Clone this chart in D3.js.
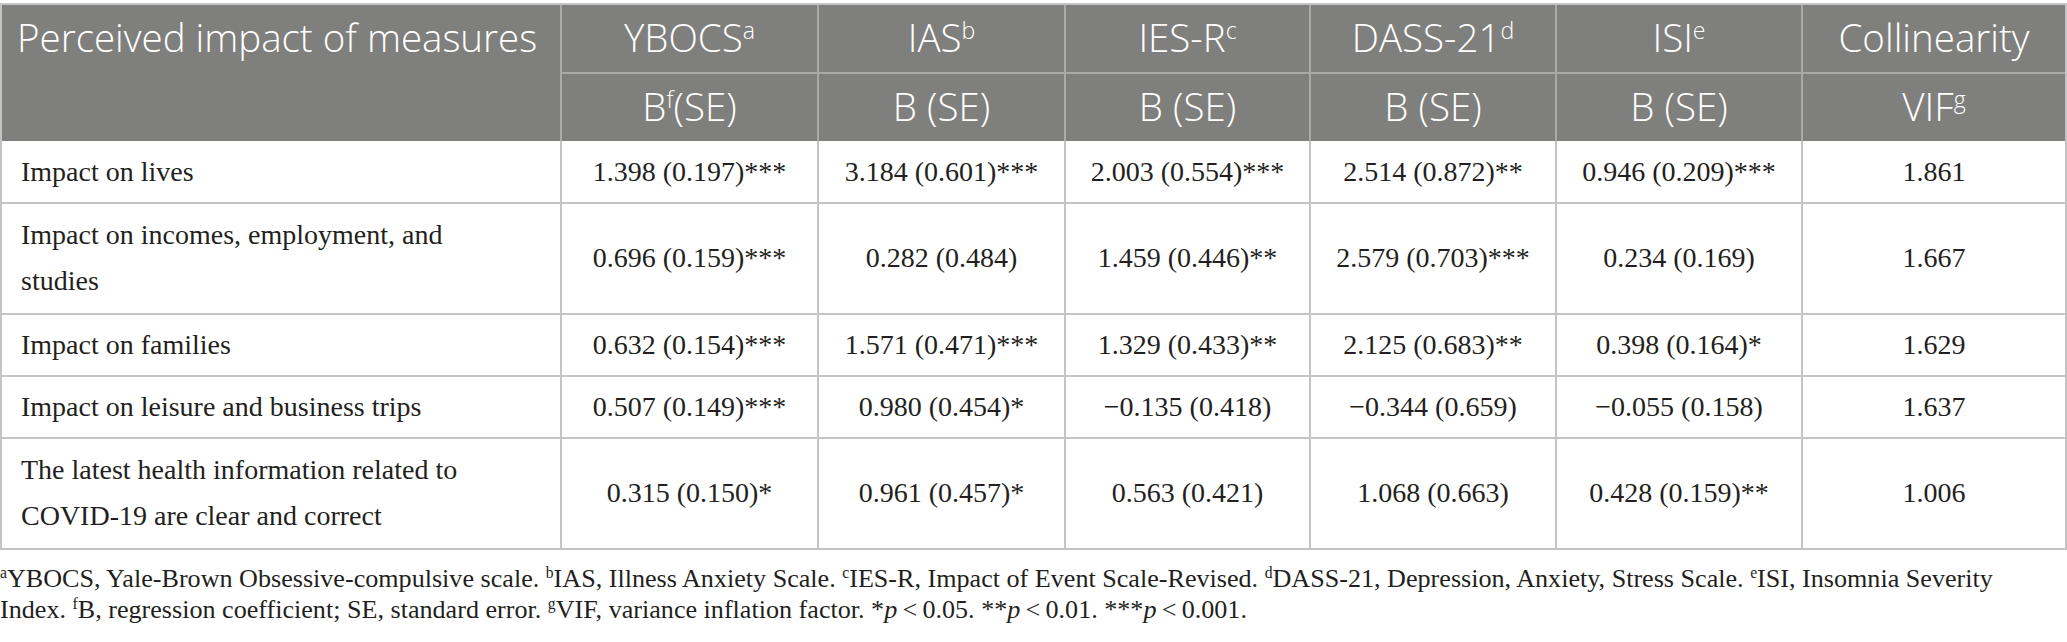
<!DOCTYPE html>
<html>
<head>
<meta charset="utf-8">
<script src="https://cdn.jsdelivr.net/npm/d3@7"></script>
<style>
  body { margin: 0; background: #fff; }
</style>
</head>
<body>
<div id="table"></div>
<script>
// row labels (\n = line break as in the printed table)
const measures = [
  "Impact on lives",
  "Impact on incomes, employment, and\nstudies",
  "Impact on families",
  "Impact on leisure and business trips",
  "The latest health information related to\nCOVID-19 are clear and correct"
]

const scaleNames = ["YBOCS", "IAS", "IES-R", "DASS-21", "ISI"]
const scaleNotes = ["a", "b", "c", "d", "e"]

// regression coefficient B, standard error, significance stars
const bYBOCS = [1.398, 0.696, 0.632, 0.507, 0.315]
const seYBOCS = [0.197, 0.159, 0.154, 0.149, 0.150]
const sigYBOCS = ["***", "***", "***", "***", "*"]

const bIAS = [3.184, 0.282, 1.571, 0.980, 0.961]
const seIAS = [0.601, 0.484, 0.471, 0.454, 0.457]
const sigIAS = ["***", "", "***", "*", "*"]

const bIESR = [2.003, 1.459, 1.329, -0.135, 0.563]
const seIESR = [0.554, 0.446, 0.433, 0.418, 0.421]
const sigIESR = ["***", "**", "**", "", ""]

const bDASS = [2.514, 2.579, 2.125, -0.344, 1.068]
const seDASS = [0.872, 0.703, 0.683, 0.659, 0.663]
const sigDASS = ["**", "***", "**", "", ""]

const bISI = [0.946, 0.234, 0.398, -0.055, 0.428]
const seISI = [0.209, 0.169, 0.164, 0.158, 0.159]
const sigISI = ["***", "", "*", "", "**"]

const vif = [1.861, 1.667, 1.629, 1.637, 1.006]

// footnote text, pieces: [text, style] where style is "sup", "it" or ""
const noteLine1 = [
  ["a", "sup"], ["YBOCS, Yale-Brown Obsessive-compulsive scale. ", ""],
  ["b", "sup"], ["IAS, Illness Anxiety Scale. ", ""],
  ["c", "sup"], ["IES-R, Impact of Event Scale-Revised. ", ""],
  ["d", "sup"], ["DASS-21, Depression, Anxiety, Stress Scale. ", ""],
  ["e", "sup"], ["ISI, Insomnia Severity", ""]
]
const noteLine2 = [
  ["Index. ", ""], ["f", "sup"], ["B, regression coefficient; SE, standard error. ", ""],
  ["g", "sup"], ["VIF, variance inflation factor. *", ""], ["p", "it"], ["\u2009<\u20090.05. **", ""],
  ["p", "it"], ["\u2009<\u20090.01. ***", ""], ["p", "it"], ["\u2009<\u20090.001.", ""]
]

// ---- layout ----
const width = 2067
const height = 642
const colWidths = [561, 257, 247, 245, 246, 246, 264]
const headTop = 4
const headRow = [69, 68]
const lineGap = 46

const headFont = "'Open Sans', 'Noto Sans', sans-serif"
const bodyFont = "'Liberation Serif', 'DejaVu Serif', serif"
const headSize = 38.5
const bodySize = 28

const fmt = d3.format(".3f")   // d3 gives the real minus sign

const columns = ["label", ...scaleNames, "VIF"]
const cells = [
  bYBOCS.map((b, i) => `${fmt(b)} (${fmt(seYBOCS[i])})${sigYBOCS[i]}`),
  bIAS.map((b, i) => `${fmt(b)} (${fmt(seIAS[i])})${sigIAS[i]}`),
  bIESR.map((b, i) => `${fmt(b)} (${fmt(seIESR[i])})${sigIESR[i]}`),
  bDASS.map((b, i) => `${fmt(b)} (${fmt(seDASS[i])})${sigDASS[i]}`),
  bISI.map((b, i) => `${fmt(b)} (${fmt(seISI[i])})${sigISI[i]}`),
  vif.map(v => fmt(v))
]

const x = d3.scaleOrdinal()
  .domain(columns)
  .range(Array.from(d3.cumsum([0, ...colWidths])))
const colW = d3.scaleOrdinal().domain(columns).range(colWidths)

const rowLines = measures.map(m => m.split("\n"))
const rowHeights = rowLines.map(l => 62 + 49 * (l.length - 1))
const bodyTop = headTop + headRow[0] + headRow[1]
const y = d3.scaleOrdinal()
  .domain(d3.range(measures.length))
  .range(Array.from(d3.cumsum([bodyTop, ...rowHeights])))
const rowH = d3.scaleOrdinal().domain(d3.range(measures.length)).range(rowHeights)
const tableBottom = y(measures.length - 1) + rowH(measures.length - 1)

const svg = d3.select("#table")
  .append("svg")
  .attr("width", width)
  .attr("height", height)
  .style("display", "block")

// header background
svg.append("rect")
  .attr("x", 0)
  .attr("y", headTop)
  .attr("width", width - 1)
  .attr("height", headRow[0] + headRow[1])
  .attr("fill", "#7f807e")

// body grid lines
const lineColor = "#c4c4c4"
const grid = svg.append("g").attr("stroke", lineColor).attr("stroke-width", 2)
d3.range(measures.length).forEach(i => {
  grid.append("line")
    .attr("x1", 0).attr("x2", width)
    .attr("y1", y(i) + rowH(i)).attr("y2", y(i) + rowH(i))
})
columns.slice(1).forEach(c => {
  grid.append("line")
    .attr("x1", x(c)).attr("x2", x(c))
    .attr("y1", bodyTop).attr("y2", tableBottom)
})
grid.append("line").attr("x1", 1).attr("x2", 1).attr("y1", headTop).attr("y2", tableBottom)
grid.append("line").attr("x1", width - 1).attr("x2", width - 1).attr("y1", headTop).attr("y2", tableBottom)
grid.append("line").attr("x1", 0).attr("x2", width).attr("y1", headTop).attr("y2", headTop)

// header lines
const hgrid = svg.append("g").attr("stroke", "#a9a9a8").attr("stroke-width", 2)
columns.slice(1).forEach(c => {
  hgrid.append("line")
    .attr("x1", x(c)).attr("x2", x(c))
    .attr("y1", headTop + 1).attr("y2", bodyTop)
})
hgrid.append("line")
  .attr("x1", x(columns[1])).attr("x2", width - 2)
  .attr("y1", headTop + headRow[0]).attr("y2", headTop + headRow[0])

// writes pieces [text, style] into a text element
function richText(text, pieces, size) {
  let raised = false
  for (let [t, style] of pieces) {
    let span = text.append("tspan").text(t)
    if (style == "sup") {
      span.attr("font-size", size * 0.6).attr("dy", raised ? 0 : -size * 0.34)
      raised = true
    } else {
      if (raised) span.attr("dy", size * 0.34)
      raised = false
      if (style == "it") span.attr("font-style", "italic")
    }
  }
}

// header text
const headRows = [
  [["Perceived impact of measures", ""]],
  ...scaleNames.map((s, i) => [[s, ""], [scaleNotes[i], "sup"]]),
  [["Collinearity", ""]]
]
const subRows = [
  null,
  [["B", ""], ["f", "sup"], ["(SE)", ""]],
  ...scaleNames.slice(1).map(() => [["B (SE)", ""]]),
  [["VIF", ""], ["g", "sup"]]
]
const head = svg.append("g")
  .attr("fill", "#fff")
  .attr("font-family", headFont)
  .attr("font-weight", 300)
  .attr("font-size", headSize)
columns.forEach((c, j) => {
  let left = j == 0
  let t = head.append("text")
    .attr("x", left ? 17 : x(c) + colW(c) / 2)
    .attr("y", headTop + headRow[0] / 2 + headSize * 0.36)
    .attr("text-anchor", left ? "start" : "middle")
  richText(t, headRows[j], headSize)
  if (subRows[j]) {
    let t2 = head.append("text")
      .attr("x", x(c) + colW(c) / 2)
      .attr("y", headTop + headRow[0] + headRow[1] / 2 + headSize * 0.36)
      .attr("text-anchor", "middle")
    richText(t2, subRows[j], headSize)
  }
})

// body text
const body = svg.append("g")
  .attr("fill", "#231f20")
  .attr("font-family", bodyFont)
  .attr("font-size", bodySize)

rowLines.forEach((lines, i) => {
  let mid = y(i) + rowH(i) / 2
  lines.forEach((l, k) => {
    body.append("text")
      .attr("x", 21)
      .attr("y", mid + (k - (lines.length - 1) / 2) * lineGap + bodySize * 0.32)
      .text(l)
  })
})

columns.slice(1).forEach((c, j) => {
  body.selectAll(null)
    .data(cells[j])
    .enter()
    .append("text")
    .attr("x", x(c) + colW(c) / 2)
    .attr("y", (d, i) => y(i) + rowH(i) / 2 + bodySize * 0.32)
    .attr("text-anchor", "middle")
    .text(d => d)
})

// footnote
const noteSize = 25
const note = svg.append("g")
  .attr("fill", "#231f20")
  .attr("font-family", bodyFont)
  .attr("font-size", noteSize)
const n1 = note.append("text").attr("x", 0).attr("y", tableBottom + 38)
richText(n1, noteLine1, noteSize)
const n2 = note.append("text").attr("x", 0).attr("y", tableBottom + 69)
richText(n2, noteLine2, noteSize)

// fit the first footnote line to the printed width
let w1 = n1.node().getComputedTextLength()
let fitted = noteSize * 1993 / w1
note.attr("font-size", fitted)
note.selectAll("text").selectAll("tspan").each(function () {
  let s = d3.select(this)
  if (s.attr("font-size")) s.attr("font-size", fitted * 0.6)
  if (s.attr("dy")) s.attr("dy", Math.sign(+s.attr("dy")) * fitted * 0.34)
})
</script>
</body>
</html>
